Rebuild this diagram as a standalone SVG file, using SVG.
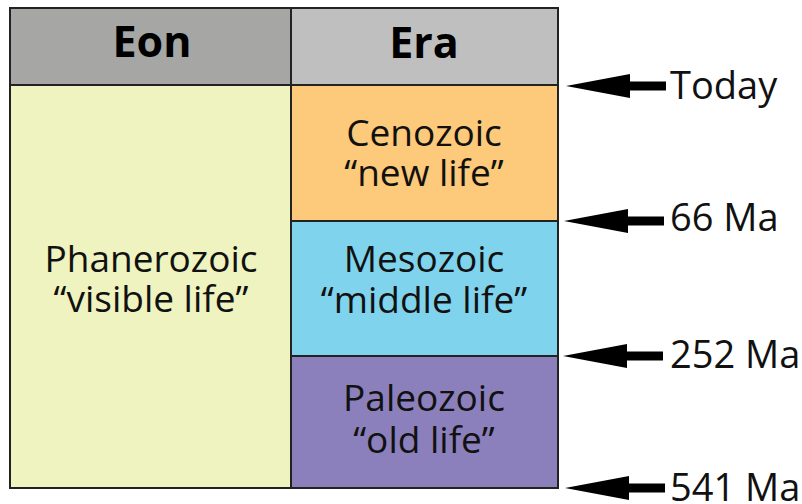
<svg xmlns="http://www.w3.org/2000/svg" width="802" height="504" viewBox="0 0 802 504">
<style>
.cell{stroke:#222;stroke-width:2}
.t{font-family:"Open Sans","Noto Sans",sans-serif;font-size:37px;fill:#111;text-anchor:middle}
.h{font-family:"Open Sans","Noto Sans",sans-serif;font-size:43px;font-weight:bold;fill:#000;text-anchor:middle}
.lbl{font-family:"Open Sans","Noto Sans",sans-serif;font-size:38px;fill:#111}
.arr{fill:#000}
</style>
<defs>
<path id="arrow" d="M0,0 L64,-12 L64,-4.5 L100,-4.5 L100,4.5 L64,4.5 L64,12 Z"/>
</defs>
<rect width="802" height="504" fill="#fff"/>
<g id="eon-header"><rect class="cell" x="10" y="8" width="281" height="77" fill="#a6a6a4"/><text class="h" x="152" y="57">Eon</text></g>
<g id="era-header"><rect class="cell" x="291" y="8" width="267" height="77" fill="#bfbfbf"/><text class="h" x="424" y="58">Era</text></g>
<g id="phanerozoic"><rect class="cell" x="10" y="85" width="281" height="403" fill="#eef3bf"/><text class="t" x="151" y="272">Phanerozoic</text><text class="t" x="151" y="312">“visible life”</text></g>
<g id="cenozoic"><rect class="cell" x="291" y="85" width="267" height="136" fill="#fdc97a"/><text class="t" x="424" y="146">Cenozoic</text><text class="t" x="424" y="186">“new life”</text></g>
<g id="mesozoic"><rect class="cell" x="291" y="221" width="267" height="135" fill="#80d3ec"/><text class="t" x="424" y="272">Mesozoic</text><text class="t" x="424" y="313">“middle life”</text></g>
<g id="paleozoic"><rect class="cell" x="291" y="356" width="267" height="132" fill="#8b80bb"/><text class="t" x="424" y="411">Paleozoic</text><text class="t" x="424" y="453">“old life”</text></g>
<g id="connectors">
<use href="#arrow" class="arr" x="566" y="86"/>
<use href="#arrow" class="arr" x="564" y="221"/>
<use href="#arrow" class="arr" x="563" y="356"/>
<use href="#arrow" class="arr" x="565" y="488"/>
</g>
<g id="labels">
<text class="lbl" x="670" y="99">Today</text>
<text class="lbl" x="670" y="231">66 Ma</text>
<text class="lbl" x="670" y="368">252 Ma</text>
<text class="lbl" x="670" y="501">541 Ma</text>
</g>
</svg>
